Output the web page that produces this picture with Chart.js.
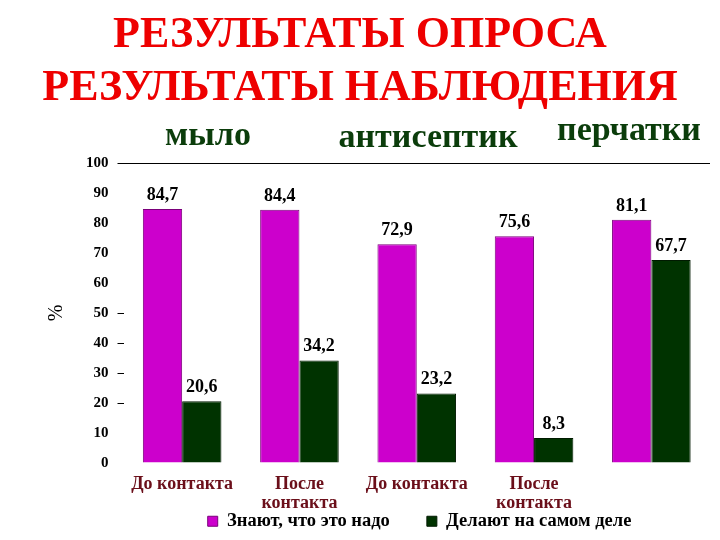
<!DOCTYPE html>
<html>
<head>
<meta charset="utf-8">
<script src="https://cdn.jsdelivr.net/npm/chart.js@4"></script>
<style>
  html, body { margin: 0; padding: 0; background: #fff; }
  #wrap { width: 720px; height: 540px; position: relative; }
</style>
</head>
<body>
<div id="wrap"><canvas id="chart" width="720" height="540"></canvas></div>
<script>
// данные с картинки
const categories = [['До контакта'], ['После', 'контакта'], ['До контакта'], ['После', 'контакта'], ['']];
const znayut = [84.7, 84.4, 72.9, 75.6, 81.1];
const delayut = [20.6, 34.2, 23.2, 8.3, 67.7];
const seriesNames = ['Знают, что это надо', 'Делают на самом деле'];
const titleLines = ['РЕЗУЛЬТАТЫ ОПРОСА', 'РЕЗУЛЬТАТЫ НАБЛЮДЕНИЯ'];
const groupNames = ['мыло', 'антисептик', 'перчатки'];

const serif = '"Liberation Serif", "Times New Roman", serif';

// заголовки и подписи значений рисуем сами
const headerPlugin = {
    id: 'header',
    afterDraw(chart) {
        const ctx = chart.ctx;
        ctx.save();
        ctx.textAlign = 'center';
        ctx.textBaseline = 'alphabetic';
        ctx.fillStyle = '#ee0000';
        ctx.font = 'bold 44px ' + serif;
        ctx.fillText(titleLines[0], 360, 47);
        ctx.fillText(titleLines[1], 360, 100);

        ctx.fillStyle = '#0b3d0b';
        ctx.font = 'bold 34px ' + serif;
        ctx.fillText(groupNames[0], 208, 145);
        ctx.fillText(groupNames[1], 428, 147);
        ctx.fillText(groupNames[2], 629, 140);

        // значения над столбцами
        ctx.fillStyle = '#000';
        ctx.font = 'bold 18px ' + serif;
        chart.data.datasets.forEach((ds, i) => {
            chart.getDatasetMeta(i).data.forEach((bar, j) => {
                const txt = ds.data[j].toFixed(1).replace('.', ',');
                ctx.fillText(txt, bar.x, bar.y - 9);
            });
        });
        ctx.restore();
    }
};

new Chart(document.getElementById('chart'), {
    type: 'bar',
    data: {
        labels: categories,
        datasets: [
            {
                label: seriesNames[0],
                data: znayut,
                backgroundColor: '#cc00cc',
                borderColor: '#7a007a',
                borderWidth: 1,
                categoryPercentage: 0.67,
                barPercentage: 1.0
            },
            {
                label: seriesNames[1],
                data: delayut,
                backgroundColor: '#003300',
                borderColor: '#001a00',
                borderWidth: 1,
                categoryPercentage: 0.67,
                barPercentage: 1.0
            }
        ]
    },
    options: {
        responsive: false,
        animation: false,
        layout: { padding: { top: 163, right: 10, left: 28, bottom: 0 } },
        plugins: {
            legend: {
                position: 'bottom',
                align: 'end',
                maxHeight: 28,
                labels: {
                    boxWidth: 10,
                    boxHeight: 10,
                    padding: 0,
                    color: '#000',
                    font: { family: serif, size: 18.5, weight: 'bold' },
                    // пробелы дают промежуток и сдвиг легенды, как в оригинале
                    generateLabels: (chart) => {
                        const items = Chart.defaults.plugins.legend.labels.generateLabels(chart);
                        items.forEach((it, i) => {
                            it.text = it.text + (i < items.length - 1 ? ' '.repeat(8) : ' '.repeat(17));
                        });
                        return items;
                    }
                }
            },
            tooltip: { enabled: false }
        },
        scales: {
            x: {
                grid: { display: false, drawTicks: false },
                border: { display: false },
                ticks: {
                    color: '#6b0f1a',
                    font: { family: serif, size: 18, weight: 'bold', lineHeight: 1.1 },
                    maxRotation: 0,
                    autoSkip: false,
                    padding: 11
                },
                afterFit: (scale) => { scale.height = 49; }
            },
            y: {
                min: 0,
                max: 100,
                border: { display: false },
                grid: {
                    color: (c) => c.tick && c.tick.value === 100 ? '#000' : 'rgba(0,0,0,0)',
                    tickColor: (c) => {
                        const v = c.tick ? c.tick.value : -1;
                        return (v === 100 || (v >= 20 && v <= 50)) ? '#000' : 'rgba(0,0,0,0)';
                    },
                    tickLength: 6,
                    drawOnChartArea: true
                },
                ticks: {
                    stepSize: 10,
                    color: '#000',
                    padding: 9,
                    font: { family: serif, size: 15, weight: 'bold' }
                },
                title: {
                    display: true,
                    text: '%',
                    color: '#000',
                    padding: { top: 17, bottom: 8 },
                    font: { family: serif, size: 20 }
                }
            }
        }
    },
    plugins: [headerPlugin]
});
</script>
</body>
</html>
